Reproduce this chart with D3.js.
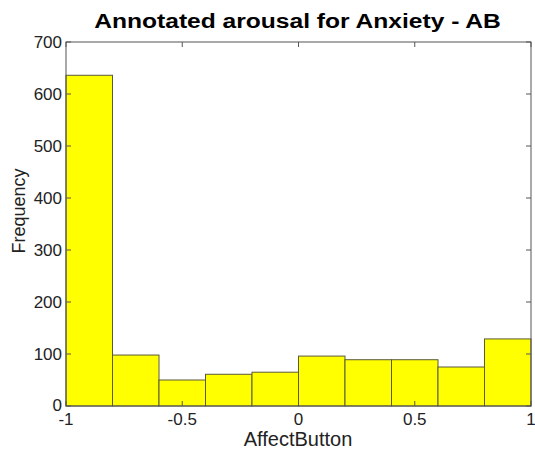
<!DOCTYPE html>
<html>
<head>
<meta charset="utf-8">
<script src="https://cdn.jsdelivr.net/npm/d3@7"></script>
<style>
  body { margin: 0; background: #fff; }
  text { font-family: "Liberation Sans", Arial, sans-serif; fill: #222; }
</style>
</head>
<body>
<div id="chart"></div>
<script>
// histogram bins (AffectButton arousal) and counts
const binEdges = [-1, -0.8, -0.6, -0.4, -0.2, 0, 0.2, 0.4, 0.6, 0.8, 1];
const counts = [636, 98, 50, 61, 65, 96, 89, 89, 75, 129];
const xTicks = [-1, -0.5, 0, 0.5, 1];
const yTicks = [0, 100, 200, 300, 400, 500, 600, 700];

const width = 535, height = 454;
const margin = {top: 42, right: 4, bottom: 48, left: 66};

const svg = d3.select("#chart").append("svg")
  .attr("width", width)
  .attr("height", height);

const x = d3.scaleLinear().domain([-1, 1]).range([margin.left, width - margin.right]);
const y = d3.scaleLinear().domain([0, 700]).range([height - margin.bottom, margin.top]);

const bins = counts.map((c, i) => ({x0: binEdges[i], x1: binEdges[i + 1], n: c}));

svg.append("g").selectAll("rect")
  .data(bins)
  .enter()
  .append("rect")
    .attr("x", d => x(d.x0))
    .attr("y", d => y(d.n))
    .attr("width", d => x(d.x1) - x(d.x0))
    .attr("height", d => y(0) - y(d.n))
    .attr("fill", "#ffff00")
    .attr("stroke", "#5a5a3a")
    .attr("stroke-width", 1);

// box
svg.append("rect")
  .attr("x", x(-1)).attr("y", y(700))
  .attr("width", x(1) - x(-1)).attr("height", y(0) - y(700))
  .attr("fill", "none").attr("stroke", "#555").attr("stroke-width", 1);

const tk = 5;
// y ticks (inside, left and right)
yTicks.forEach(v => {
  svg.append("line").attr("x1", x(-1)).attr("x2", x(-1) + tk)
    .attr("y1", y(v)).attr("y2", y(v)).attr("stroke", "#555");
  svg.append("line").attr("x1", x(1)).attr("x2", x(1) - tk)
    .attr("y1", y(v)).attr("y2", y(v)).attr("stroke", "#555");
  svg.append("text")
    .attr("x", x(-1) - 4).attr("y", y(v) - (v === 0 ? 1 : 0))
    .attr("text-anchor", "end").attr("dominant-baseline", "central")
    .style("font-size", "17px")
    .text(v);
});

// x ticks (inside, bottom and top)
xTicks.forEach(v => {
  svg.append("line").attr("x1", x(v)).attr("x2", x(v))
    .attr("y1", y(0)).attr("y2", y(0) - tk).attr("stroke", "#555");
  svg.append("line").attr("x1", x(v)).attr("x2", x(v))
    .attr("y1", y(700)).attr("y2", y(700) + tk).attr("stroke", "#555");
  svg.append("text")
    .attr("x", x(v)).attr("y", y(0) + 19)
    .attr("text-anchor", "middle")
    .style("font-size", "17px")
    .text(v);
});

svg.append("text")
  .attr("x", 298).attr("y", 446)
  .attr("text-anchor", "middle")
  .style("font-size", "20px")
  .text("AffectButton");

svg.append("text")
  .attr("transform", "translate(25,211) rotate(-90)")
  .attr("text-anchor", "middle")
  .style("font-size", "18px")
  .text("Frequency");

// title is a bit stretched horizontally in the original
svg.append("text")
  .attr("transform", "translate(297.5,27.5) scale(1.2,1)")
  .attr("text-anchor", "middle")
  .style("font-size", "20.5px")
  .style("font-weight", "bold")
  .style("fill", "#000")
  .text("Annotated arousal for Anxiety - AB");
</script>
</body>
</html>
